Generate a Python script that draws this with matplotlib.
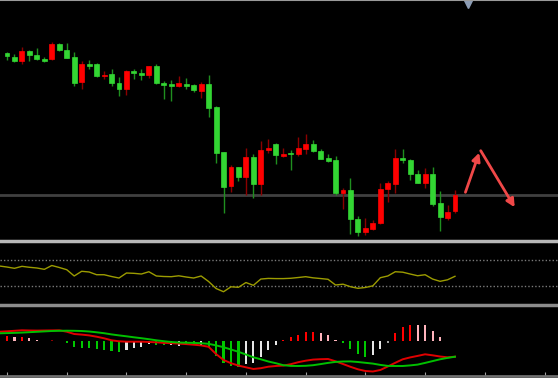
import numpy as np
import matplotlib
matplotlib.use("Agg")
import matplotlib.pyplot as plt

# price candles (arbitrary price units)
opens = [197.0, 193.3, 188.7, 199.3, 194.7, 191.3, 190.7, 206.0, 200.0, 192.7,
         167.7, 186.0, 185.7, 173.7, 175.7, 167.0, 161.0, 179.0, 177.0, 175.0,
         183.7, 167.3, 166.3, 164.0, 166.0, 165.3, 159.3, 166.0, 142.7, 97.7,
         64.3, 82.7, 73.0, 93.0, 65.7, 100.0, 106.3, 94.3, 97.3, 96.0,
         101.3, 105.7, 99.0, 91.7, 89.7, 56.7, 60.0, 31.3, 18.0, 21.3,
         26.7, 60.7, 66.0, 92.3, 90.0, 76.3, 67.3, 76.0, 47.0, 32.3, 39.0]
highs = [198.3, 195.7, 202.7, 200.0, 202.3, 193.3, 207.7, 207.0, 207.0, 198.3,
         189.0, 190.3, 187.3, 179.3, 180.7, 173.3, 180.0, 180.7, 180.7, 184.3,
         186.0, 169.0, 170.0, 173.7, 172.0, 166.0, 168.0, 175.3, 143.7, 98.3,
         85.0, 83.3, 102.3, 96.0, 109.3, 110.7, 107.3, 102.0, 100.0, 113.3,
         115.7, 110.0, 101.0, 95.7, 94.0, 62.3, 72.3, 34.0, 32.3, 30.0,
         67.3, 69.0, 100.7, 101.0, 90.7, 79.7, 82.3, 83.3, 59.0, 45.0, 60.0]
lows = [189.7, 188.3, 185.7, 189.0, 189.7, 188.0, 190.0, 199.0, 191.7, 164.3,
        161.0, 180.7, 173.0, 170.7, 164.0, 154.0, 155.0, 171.0, 170.0, 171.7,
        166.0, 151.0, 149.0, 163.3, 161.0, 157.7, 152.3, 133.3, 87.3, 37.3,
        57.7, 69.0, 54.7, 51.7, 54.7, 97.3, 85.7, 92.7, 80.3, 94.0,
        95.7, 98.3, 90.7, 87.7, 54.7, 41.0, 16.0, 14.3, 15.0, 20.0,
        26.0, 48.0, 57.3, 87.3, 69.7, 66.7, 61.7, 44.3, 19.0, 30.0, 37.3]
closes = [193.7, 188.7, 199.0, 194.7, 191.0, 188.7, 206.0, 199.7, 192.3, 167.3,
          186.0, 184.0, 173.7, 175.0, 166.7, 161.3, 178.7, 177.3, 175.0, 183.7,
          166.7, 165.3, 164.0, 166.7, 164.3, 159.7, 166.0, 141.7, 97.3, 63.3,
          82.7, 73.0, 92.7, 66.0, 100.0, 102.0, 94.7, 96.3, 95.7, 101.7,
          105.7, 99.3, 91.3, 89.3, 56.7, 60.0, 31.0, 17.7, 21.7, 27.0,
          61.3, 66.7, 92.3, 90.0, 75.7, 67.3, 76.0, 46.3, 33.0, 38.0, 55.0]
level_price = 55.0

# oscillator (first value belongs to the bar just left of the screen)
rsi = [61.0, 59.4, 57.4, 60.5, 59.0, 57.9, 55.8, 61.8, 58.7, 55.2, 45.3,
       52.7, 51.6, 47.3, 47.3, 44.5, 42.1, 50.0, 49.5, 48.4, 52.0,
       45.3, 44.5, 44.2, 45.6, 43.7, 42.1, 45.3, 36.6, 25.6, 20.5,
       28.3, 27.5, 35.0, 30.6, 40.5, 41.5, 41.2, 41.2, 41.7, 42.9,
       44.2, 42.4, 41.3, 40.1, 31.1, 32.4, 28.4, 25.9, 27.2, 29.8,
       42.6, 45.3, 52.0, 51.3, 48.4, 45.7, 47.3, 40.5, 36.9, 39.3, 44.8]
rsi_levels = [70, 30]

# macd panel
hist = [5.3, 4.0, 4.0, 3.3, 1.7, 0.7, 1.3, 0.7, -1.3, -5.7,
        -6.3, -6.7, -7.7, -8.7, -9.7, -11.0, -8.7, -6.3, -5.7, -3.0,
        -3.3, -3.7, -4.0, -4.3, -4.0, -3.7, -4.0, -5.3, -14.7, -22.0,
        -24.3, -25.3, -22.7, -22.0, -15.3, -8.7, -3.5, 1.3, 4.0, 6.3,
        9.0, 9.0, 8.0, 6.3, 1.3, -2.0, -8.0, -13.0, -15.3, -14.0,
        -7.7, -1.3, 8.7, 14.0, 16.7, 16.7, 16.7, 10.7, 4.7, 0.7, 0.7]
hist_colors = list("rprppdddggggggggwwwwggwwggwgggggwwwwwrrrrrpppggggwwkrrrppppkk")
fast_line = [9.6, 10.0, 10.5, 11.0, 10.8, 10.7, 10.8, 10.9, 11.0, 9.6, 7.3,
             6.7, 5.9, 4.6, 3.0, 1.0, 0.0, -0.4, -0.4, -0.4, -0.7,
             -1.0, -1.6, -1.9, -2.3, -2.8, -3.4, -4.1, -5.5, -12.7, -18.7,
             -21.9, -24.3, -26.0, -27.7, -26.9, -25.4, -24.7, -24.3, -22.9, -20.9,
             -19.4, -18.3, -17.9, -17.7, -20.0, -22.7, -25.5, -28.0, -29.7, -30.2,
             -28.7, -25.2, -21.5, -18.0, -16.1, -14.6, -13.0, -14.0, -15.2, -16.0, -15.4]
slow_line = [8.0, 8.2, 8.4, 8.7, 9.1, 9.5, 9.9, 10.3, 10.5, 10.6, 10.5,
             10.3, 9.8, 9.0, 8.1, 6.9, 5.9, 5.0, 4.0, 3.1, 2.1,
             1.0, 0.1, -0.7, -1.2, -1.4, -1.6, -1.9, -2.5, -4.1, -5.9,
             -8.2, -10.5, -13.2, -16.0, -18.0, -20.2, -21.9, -23.9, -24.6, -24.7,
             -24.5, -23.9, -22.8, -21.6, -20.6, -20.2, -20.1, -20.7, -21.5, -22.3,
             -23.6, -24.6, -24.7, -24.7, -24.1, -23.3, -21.6, -19.8, -18.0, -16.6, -15.4]

# hand drawn arrows (bar index, price)
arrow_up = [(61.4, 57.7), (63.25, 97.3)]
arrow_down = [(63.45, 99.3), (68.0, 42.7)]

palette = {"r": "#ff0000", "p": "#ffb4bc", "g": "#00c800", "w": "#e6e6e6",
           "d": "#8b0000", "k": "#a0a0a0"}

x = np.arange(len(opens))
x_osc = np.arange(len(rsi)) - 1
xlim = (-0.94, 73.8)

fig = plt.figure(figsize=(5.58, 3.78), dpi=100, facecolor="black")


def rect(top, bottom):
    return [0, 1 - bottom / 378, 1, (bottom - top) / 378]


def show_spine(a, side, color, lw):
    a.spines[side].set_visible(True)
    a.spines[side].set_color(color)
    a.spines[side].set_linewidth(lw)
    a.spines[side].set_zorder(10)


ax = fig.add_axes(rect(0, 240.5))
ax_rsi = fig.add_axes(rect(240.5, 304.5))
ax_macd = fig.add_axes(rect(304.5, 375.5))

for a in (ax, ax_rsi, ax_macd):
    a.set_facecolor("black")
    a.set_xlim(*xlim)
    for s in a.spines.values():
        s.set_visible(False)
    a.set_xticks([])
    a.set_yticks([])

# candles
o = np.array(opens)
c = np.array(closes)
up = c > o
body_col = np.where(up, "#ff0000", "#33d633")
wick_col = np.where(up, "#8b0000", "#1f8f1f")
ax.vlines(x, lows, highs, colors=wick_col, linewidth=1, zorder=2)
ax.bar(x, np.abs(c - o), bottom=np.minimum(o, c), width=0.66,
       color=body_col, edgecolor=body_col, linewidth=0.5, zorder=3)
ax.axhline(level_price, color="#404040", linewidth=2, zorder=1)
ax.set_ylim(9.5, 250)
show_spine(ax, "top", "#9a9a9a", 1.5)

for (x0, y0), (x1, y1) in (arrow_up, arrow_down):
    ax.annotate("", xy=(x1, y1), xytext=(x0, y0),
                arrowprops=dict(arrowstyle="-|>", color="#f04848", lw=2,
                                mutation_scale=12, shrinkA=0, shrinkB=0))
ax.plot([61.75], [247.5], marker="v", markersize=7, color="#8c9cb4",
        clip_on=False, zorder=5)

# oscillator
for lv in rsi_levels:
    ax_rsi.axhline(lv, color="#7a7a7a", linewidth=1, linestyle=(0, (1, 1.5)))
ax_rsi.plot(x_osc, rsi, color="#9c9c00", linewidth=1)
ax_rsi.set_ylim(0.4, 101.2)
show_spine(ax_rsi, "top", "#b8b8b8", 2.5)

# macd
ax_macd.bar(x, hist, width=0.28, color=[palette[k] for k in hist_colors])
ax_macd.plot(x_osc, fast_line, color="#e00000", linewidth=1.4)
ax_macd.plot(x_osc, slow_line, color="#00c000", linewidth=1.4)
ax_macd.set_ylim(-34.2, 36.8)
show_spine(ax_macd, "top", "#8c8c8c", 2.5)
show_spine(ax_macd, "bottom", "#707070", 2)
ax_macd.set_xticks(np.arange(0, 73, 8))
ax_macd.tick_params(axis="x", direction="in", length=3, color="#a0a0a0",
                    labelbottom=False)

fig.savefig("out.png", dpi=100, facecolor="black")
